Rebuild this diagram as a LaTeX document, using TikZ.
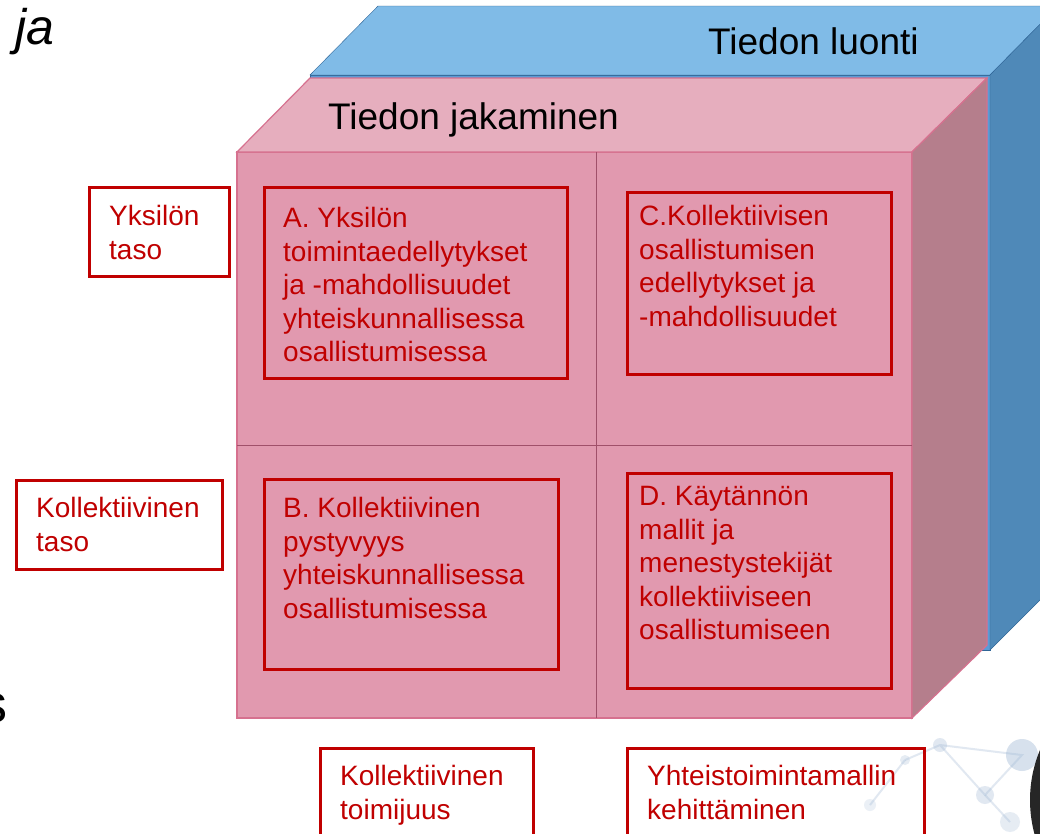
\documentclass[tikz,border=0pt]{standalone}
\usepackage{fontspec}
\setmainfont{Liberation Sans}
\definecolor{bluetop}{HTML}{80BBE7}
\definecolor{bluefront}{HTML}{5B9BD5}
\definecolor{blueside}{HTML}{4F89B8}
\definecolor{blueline}{HTML}{2F6597}
\definecolor{pinktop}{HTML}{E6AEBE}
\definecolor{pinkfront}{HTML}{E199AF}
\definecolor{pinkside}{HTML}{B57E8C}
\definecolor{pinkline}{HTML}{D6718F}
\definecolor{gridline}{HTML}{A0506A}
\definecolor{boxred}{HTML}{C00000}
\definecolor{netblue}{HTML}{9DB6D3}
\newcommand\boxfont{\fontsize{28}{33.6}\selectfont}
\newcommand\titlefont{\fontsize{37}{44}\selectfont}
\begin{document}
\begin{tikzpicture}[x=1pt, y=-1pt,
    redbox/.style = {draw=boxred, line width=3pt, anchor=north west, inner sep=0pt},
    redtext/.style = {text=boxred, font=\boxfont, align=left, anchor=north west, inner sep=0pt},
    title/.style = {font=\titlefont, anchor=north west, inner sep=0pt}]
  \useasboundingbox (0,0) rectangle (1040,833);
  \fill[white] (0,0) rectangle (1040,833);

  % faint background picture, bottom right
  \draw[netblue, opacity=.3, line width=2pt] (905,760) -- (940,745) -- (1022,755) -- (985,795) -- (940,745);
  \draw[netblue, opacity=.3, line width=2pt] (985,795) -- (1010,822) (870,805) -- (905,760);
  \fill[netblue, opacity=.4] (1022,755) circle (16);
  \fill[netblue, opacity=.3] (940,745) circle (7);
  \fill[netblue, opacity=.25] (905,760) circle (5);
  \fill[netblue, opacity=.3] (985,795) circle (9);
  \fill[netblue, opacity=.25] (1010,822) circle (10);
  \fill[netblue, opacity=.2] (870,805) circle (6);
  \fill[black!85] (1160,800) circle (130);

  % blue block
  \filldraw[fill=bluefront, draw=blueline] (310,75) rectangle (990,650);
  \filldraw[fill=bluetop, draw=blueline] (310,75) -- (378,6) -- (1058,6) -- (990,75) -- cycle;
  \filldraw[fill=blueside, draw=blueline] (990,75) -- (1058,6) -- (1058,582) -- (990,650) -- cycle;
  \node[title] (luonti) at (708,27) {Tiedon luonti};

  % pink block
  \filldraw[fill=pinkfront, draw=pinkline, line width=1.2pt] (237,152) rectangle (912,718);
  \filldraw[fill=pinktop, draw=pinkline, line width=1.2pt] (237,152) -- (310,78) -- (987,78) -- (912,152) -- cycle;
  \filldraw[fill=pinkside, draw=pinkline, line width=1.2pt] (912,152) -- (987,78) -- (987,645) -- (912,718) -- cycle;
  \draw[gridline] (596,152) -- (596,718);
  \draw[gridline] (237,445) -- (912,445);
  \node[title] (jakaminen) at (328,102) {Tiedon jakaminen};

  % boxes
  \node[redbox, minimum width=140pt, minimum height=89pt] (yksilo) at (88,186) {};
  \node[redbox, minimum width=206pt, minimum height=89pt] (kollektiivi) at (15,479) {};
  \node[redbox, minimum width=303pt, minimum height=191pt] (boxA) at (263,186) {};
  \node[redbox, minimum width=264pt, minimum height=182pt] (boxC) at (626,191) {};
  \node[redbox, minimum width=294pt, minimum height=190pt] (boxB) at (263,478) {};
  \node[redbox, minimum width=264pt, minimum height=215pt] (boxD) at (626,472) {};
  \node[redbox, minimum width=213pt, minimum height=100pt] (toimijuus) at (319,747) {};
  \node[redbox, minimum width=297pt, minimum height=100pt] (kehitys) at (626,747) {};

  % texts
  \node[redtext] (yksilotxt) at (109,205) {Yksilön\\taso};
  \node[redtext] (kollektiivitxt) at (36,497) {Kollektiivinen\\taso};
  \node[redtext] (txtA) at (283,207) {A. Yksilön\\toimintaedellytykset\\ja -mahdollisuudet\\yhteiskunnallisessa\\osallistumisessa};
  \node[redtext] (txtC) at (639,205) {C.Kollektiivisen\\osallistumisen\\edellytykset ja\\-mahdollisuudet};
  \node[redtext] (txtB) at (283,497) {B. Kollektiivinen\\pystyvyys\\yhteiskunnallisessa\\osallistumisessa};
  \node[redtext] (txtD) at (639,486) {D. Käytännön\\mallit ja\\menestystekijät\\kollektiiviseen\\osallistumiseen};
  \node[redtext] (toimijuustxt) at (340,765) {Kollektiivinen\\toimijuus};
  \node[redtext] (kehitystxt) at (647,765) {Yhteistoimintamallin\\kehittäminen};

  % cut-off words of the slide
  \node[font=\fontsize{50}{56}\selectfont\itshape, anchor=base west, inner sep=0pt] (ja) at (15,44) {ja};
  \node[font=\fontsize{54}{60}\selectfont, anchor=base east, inner sep=0pt] (s) at (8,722) {s};
\end{tikzpicture}
\end{document}
